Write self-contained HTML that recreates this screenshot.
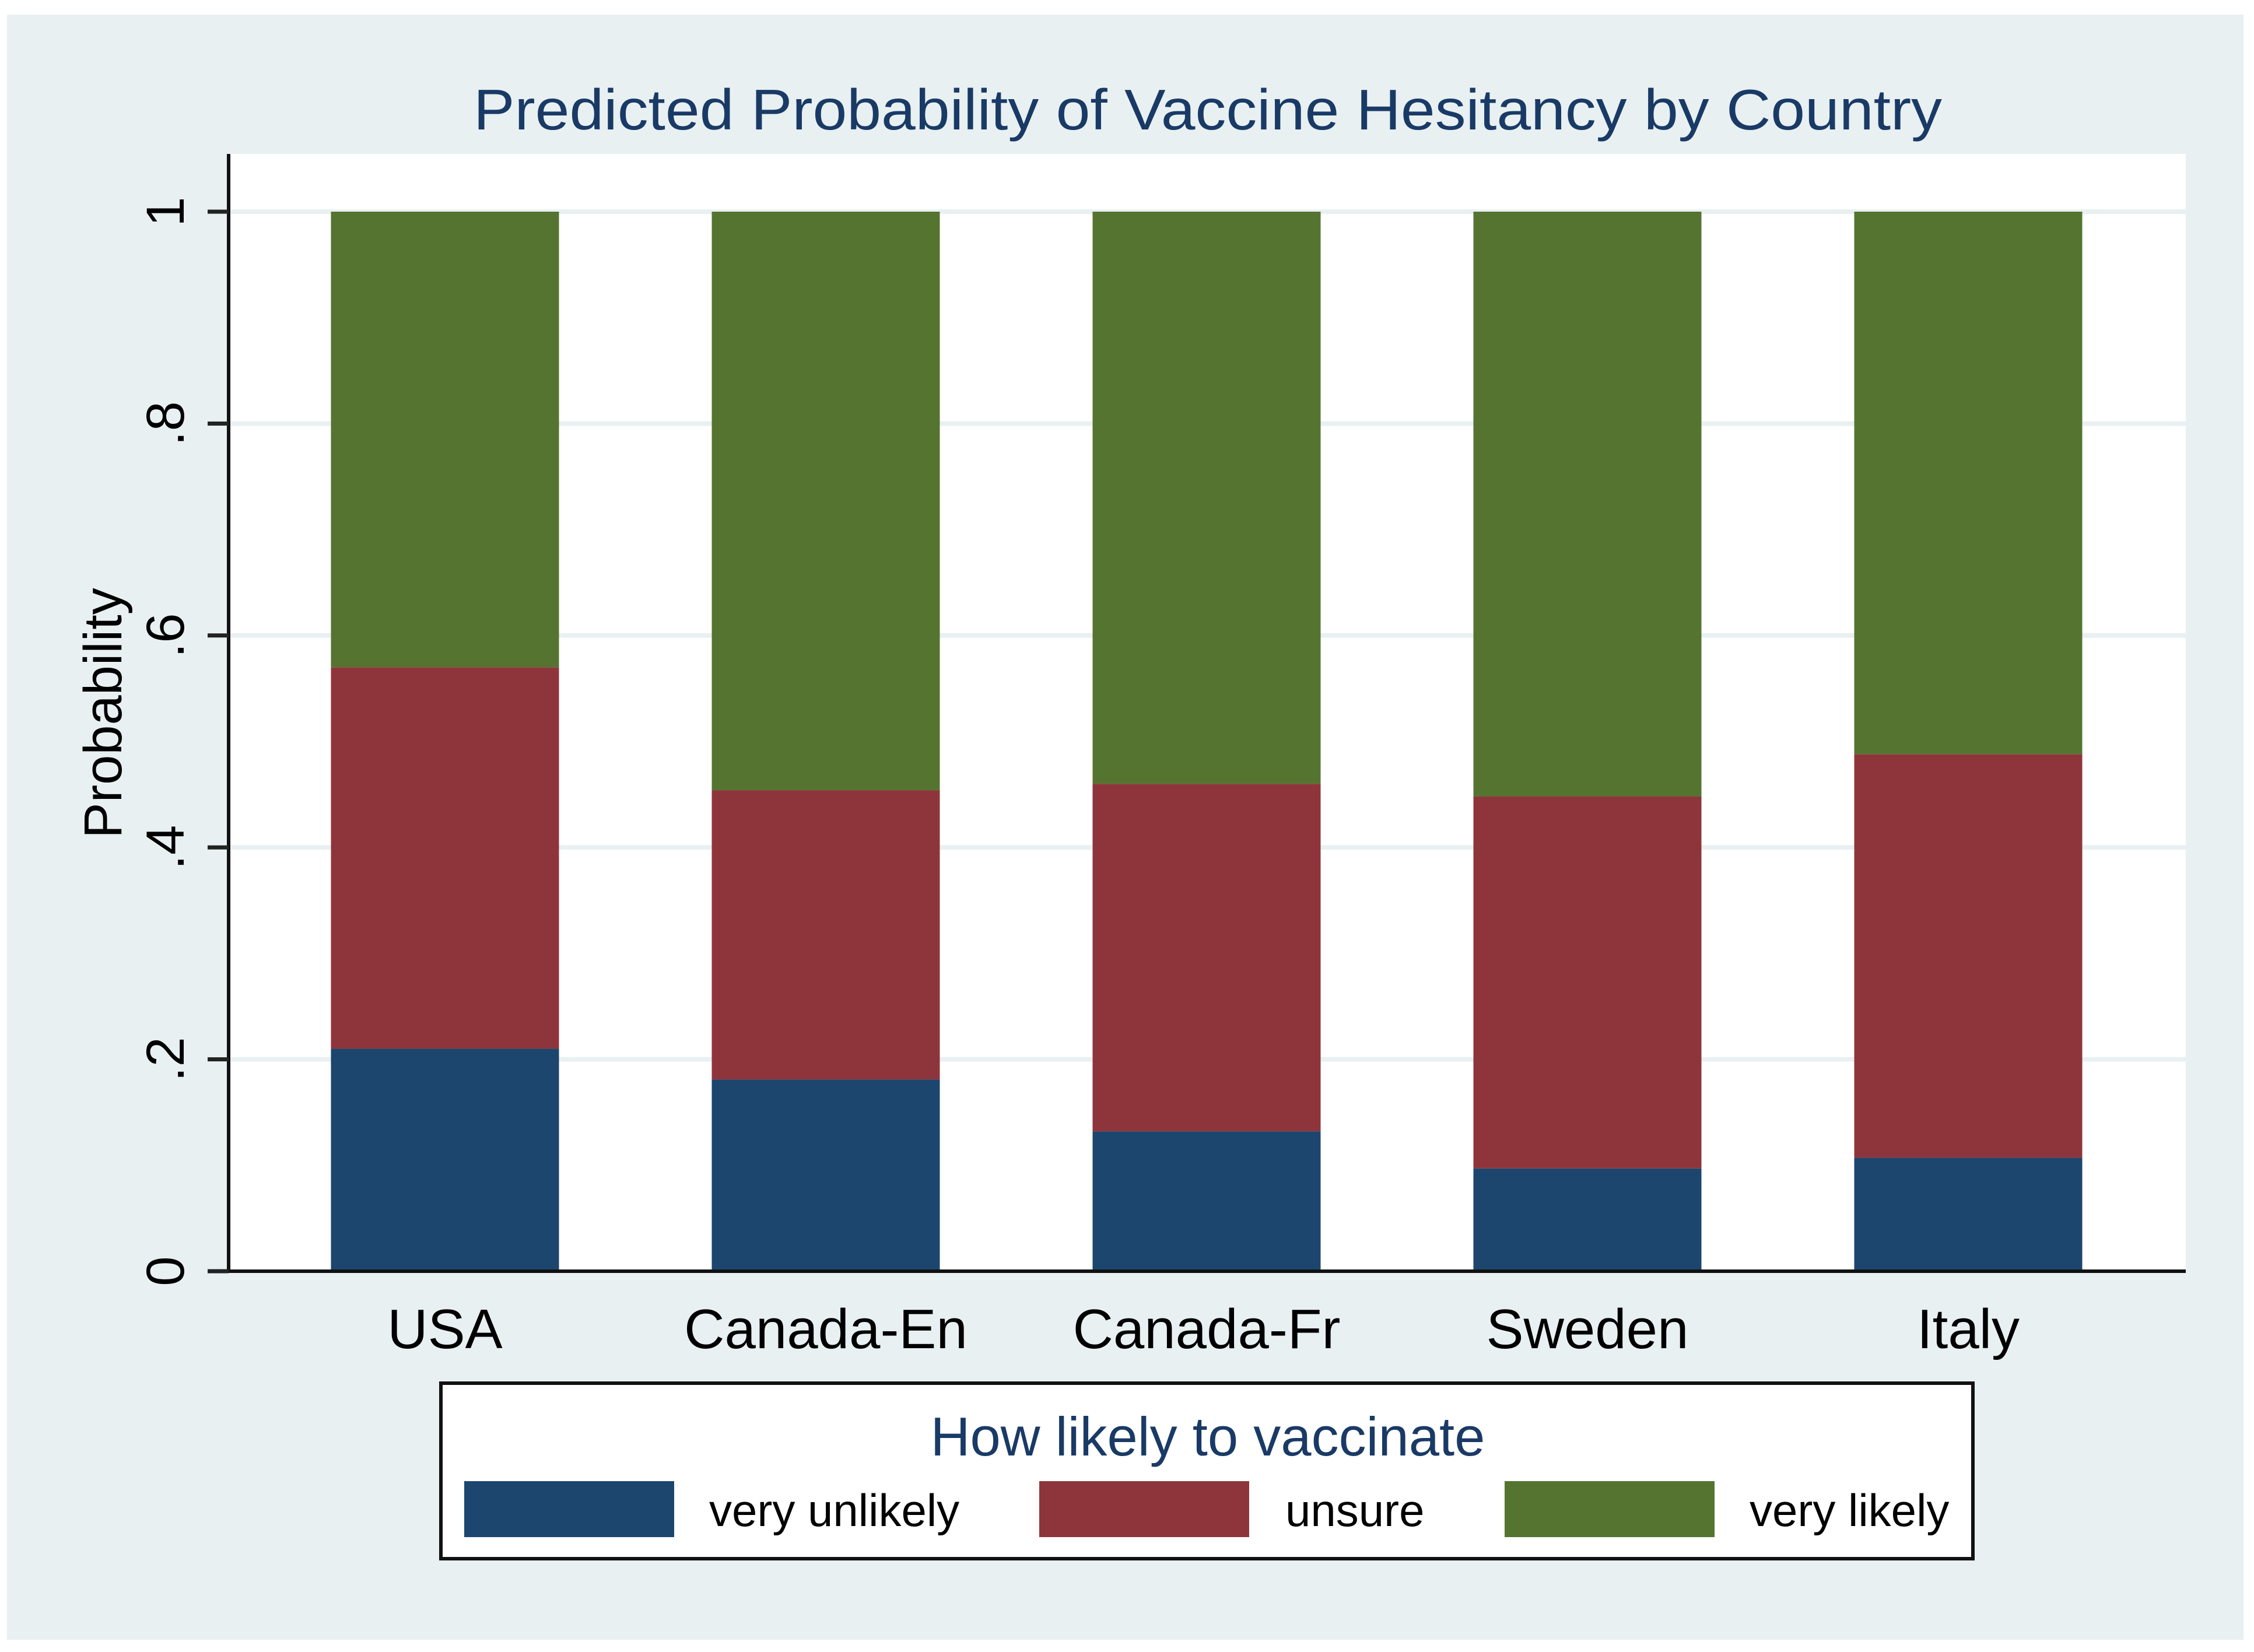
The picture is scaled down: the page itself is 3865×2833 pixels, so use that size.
<!DOCTYPE html>
<html><head><meta charset="utf-8">
<style>
html,body{margin:0;padding:0;background:#fff;}
svg{display:block;font-family:"Liberation Sans",Arial,sans-serif;}
</style></head>
<body>
<svg id="chart" width="3865" height="2833" viewBox="0 0 3865 2833">
<rect x="12" y="25" width="3835" height="2787" fill="#e8f0f2"/>
<rect x="390" y="264" width="3358" height="1916" fill="#ffffff"/>
<text x="2071" y="222" text-anchor="middle" font-size="98" fill="#1a3a66" textLength="2518" lengthAdjust="spacingAndGlyphs">Predicted Probability of Vaccine Hesitancy by Country</text>
<g id="grid"></g>
<g id="bars"></g>
<g id="axes"></g>
<text transform="translate(208,1223) rotate(-90)" text-anchor="middle" font-size="92" fill="#000">Probability</text>
<rect x="756" y="2372" width="2627" height="301" fill="#fff" stroke="#111" stroke-width="6"/>
<text x="2071" y="2496" text-anchor="middle" font-size="94" fill="#1a3a66">How likely to vaccinate</text>
<g id="legend"></g>
</svg>
<script>
const categories = ["USA","Canada-En","Canada-Fr","Sweden","Italy"];
const seriesNames = ["very unlikely","unsure","very likely"];
const veryUnlikely = [0.21,0.181,0.132,0.097,0.107];
const unsure = [0.36,0.273,0.328,0.351,0.381];
const veryLikely = [0.43,0.546,0.540,0.552,0.512];
const yTicks = [0,0.2,0.4,0.6,0.8,1];
const yTickLabels = ["0",".2",".4",".6",".8","1"];
const colors = ["#1c466e","#8e353c","#557430"];

const NS="http://www.w3.org/2000/svg";
const y0=2180, y1=363;
function yScale(v){return y0-(y0-y1)*v;}
const xStart=763, xStep=653, barW=391;
function xScale(i){return xStart+i*xStep;}
function mk(tag,attrs,parent){const e=document.createElementNS(NS,tag);for(const k in attrs)e.setAttribute(k,attrs[k]);parent.appendChild(e);return e;}

const grid=document.getElementById('grid');
yTicks.forEach((t,i)=>{
  if(t===0)return;
  const l=mk('line',{x1:390,x2:3748,y1:yScale(t),y2:yScale(t),stroke:'#e9f0f2','stroke-width':8},grid);
  
  
});

const bars=document.getElementById('bars');
const series=[veryUnlikely,unsure,veryLikely];
categories.forEach((c,i)=>{
  let base=0;
  series.forEach((s,j)=>{
    const v=s[i];
    const r=mk('rect',{x:xScale(i)-barW/2,y:yScale(base+v),width:barW,height:yScale(base)-yScale(base+v),fill:colors[j]},bars);
    
    
    base+=v;
  });
  const t=mk('text',{x:xScale(i),y:2312,'text-anchor':'middle','font-size':96,fill:'#000'},bars);
  t.textContent=c;
  
  
});

const axes=document.getElementById('axes');
const ya=mk('line',{x1:392,x2:392,y1:264,y2:2183,stroke:'#111','stroke-width':6},axes);


const xa=mk('line',{x1:389,x2:3748,y1:2180,y2:2180,stroke:'#111','stroke-width':6},axes);


yTicks.forEach((t,i)=>{
  const y=yScale(t);
  const tk=mk('line',{x1:356,x2:392,y1:y,y2:y,stroke:'#222','stroke-width':7},axes);
  
  
  const tx=mk('text',{transform:'translate(315,'+y+') rotate(-90)','text-anchor':'middle','font-size':92,fill:'#000'},axes);
  tx.textContent=yTickLabels[i];
  
  
});

const legend=document.getElementById('legend');
const swX=[796,1782,2580], lbX=[1216,2204,3000];
seriesNames.forEach((n,j)=>{
  const r=mk('rect',{x:swX[j],y:2540,width:360,height:96,fill:colors[j]},legend);
  
  
  const t=mk('text',{x:lbX[j],y:2617,'font-size':78,fill:'#000'},legend);
  t.textContent=n;
  
  
});
</script>
</body></html>
